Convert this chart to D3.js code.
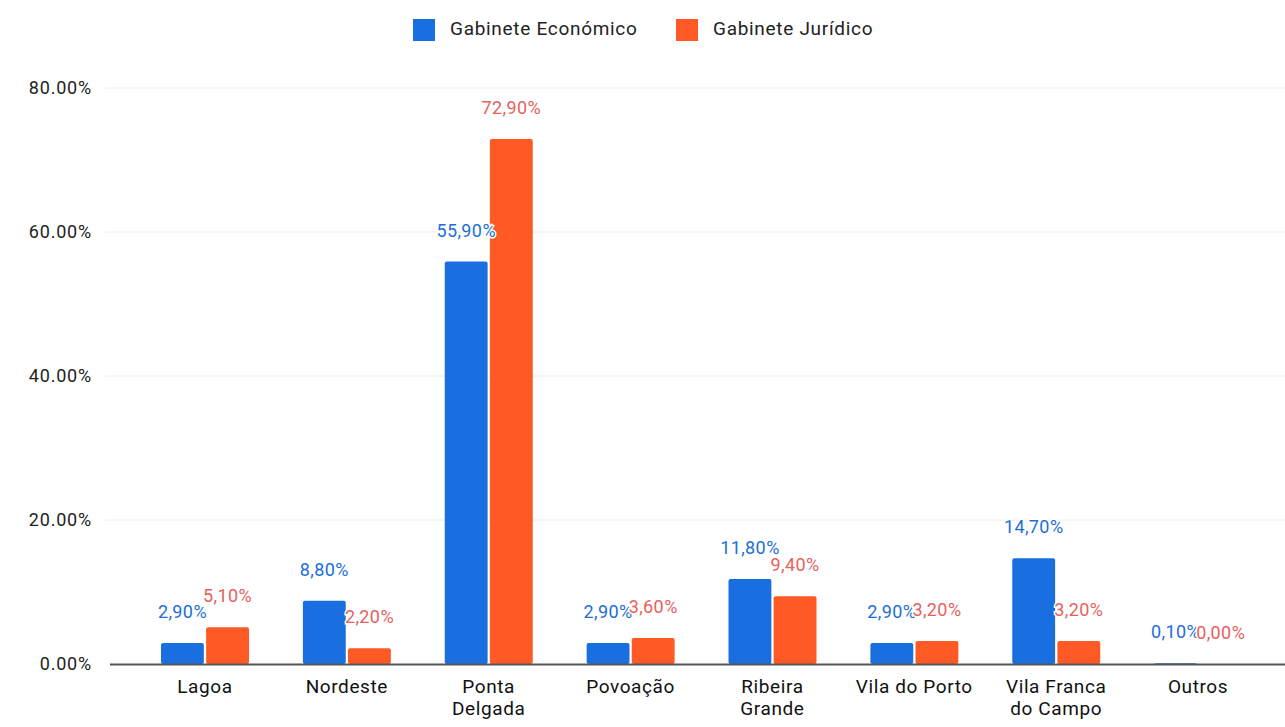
<!DOCTYPE html>
<html>
<head>
<meta charset="utf-8">
<script src="https://cdn.jsdelivr.net/npm/d3@7"></script>
<style>
    body { margin: 0; background: #fff; }
    svg { display: block; font-family: Roboto, Arial, sans-serif; }
</style>
</head>
<body>
<div id="chart"></div>
<script>
const categories = ['Lagoa', 'Nordeste', 'Ponta\nDelgada', 'Povoação', 'Ribeira\nGrande', 'Vila do Porto', 'Vila Franca\ndo Campo', 'Outros'];
const seriesNames = ['Gabinete Económico', 'Gabinete Jurídico'];
const economico = [2.9, 8.8, 55.9, 2.9, 11.8, 2.9, 14.7, 0.1];
const juridico = [5.1, 2.2, 72.9, 3.6, 9.4, 3.2, 3.2, 0.0];
const yTicks = [0, 20, 40, 60, 80];

const colors = ['#1a6fe0', '#ff5a26'];
const labelColors = ['#1d6fd6', '#e8605c'];

const width = 1285;
const height = 727;
const margin = { top: 88, right: 15, bottom: 63, left: 134 };

const svg = d3.select('#chart')
    .append('svg')
    .attr('width', width)
    .attr('height', height);

const x0 = d3.scaleBand()
    .domain(categories)
    .range([margin.left, width - margin.right - 1]);

const x1 = d3.scaleBand()
    .domain(seriesNames)
    .range([27, 115])
    .paddingInner(0.05);

const y = d3.scaleLinear()
    .domain([0, 80])
    .range([height - margin.bottom, margin.top]);

// gridlines
svg.append('g')
    .selectAll('line')
    .data(yTicks.slice(1))
    .enter()
    .append('line')
    .attr('x1', 105)
    .attr('x2', width)
    .attr('y1', d => y(d))
    .attr('y2', d => y(d))
    .attr('stroke', '#ececec')
    .attr('stroke-width', 1);

// y axis labels
const yAxis = d3.axisLeft(y)
    .tickValues(yTicks)
    .tickSize(0)
    .tickPadding(0)
    .tickFormat(d => d.toFixed(2) + '%');

svg.append('g')
    .attr('transform', 'translate(92,0)')
    .call(yAxis)
    .call(g => g.select('.domain').remove())
    .selectAll('text')
    .attr('font-size', 18)
    .attr('letter-spacing', 0.8)
    .attr('fill', '#222')
    .attr('font-family', 'Roboto, Arial, sans-serif');

const data = categories.map((c, i) => ({
    category: c,
    values: [
        { key: seriesNames[0], value: economico[i], s: 0 },
        { key: seriesNames[1], value: juridico[i], s: 1 }
    ]
}));

const groups = svg.append('g')
    .selectAll('g')
    .data(data)
    .enter()
    .append('g')
    .attr('transform', d => `translate(${x0(d.category)},0)`);

groups.selectAll('rect')
    .data(d => d.values)
    .enter()
    .append('rect')
    .attr('x', d => x1(d.key))
    .attr('y', d => y(d.value))
    .attr('width', x1.bandwidth())
    .attr('height', d => y(0) - y(d.value))
    .attr('rx', 2)
    .attr('fill', d => colors[d.s]);

// baseline
svg.append('line')
    .attr('x1', 110)
    .attr('x2', width)
    .attr('y1', y(0) + 0.5)
    .attr('y2', y(0) + 0.5)
    .attr('stroke', '#555')
    .attr('stroke-width', 2);

// value labels (orange drawn last, with white halo)
groups.selectAll('text.value')
    .data(d => d.values)
    .enter()
    .append('text')
    .attr('class', 'value')
    .attr('x', d => x1(d.key) + x1.bandwidth() / 2)
    .attr('y', d => y(d.value) - 25)
    .attr('text-anchor', 'middle')
    .attr('font-size', 18)
    .attr('letter-spacing', 0.4)
    .attr('fill', d => labelColors[d.s])
    .attr('stroke', '#fff')
    .attr('stroke-width', 3)
    .attr('paint-order', 'stroke')
    .text(d => d.value.toFixed(2).replace('.', ',') + '%');

// category labels
const catLabels = svg.append('g')
    .selectAll('text')
    .data(categories)
    .enter()
    .append('text')
    .attr('x', d => x0(d) + x0.bandwidth() / 2)
    .attr('y', y(0) + 29)
    .attr('text-anchor', 'middle')
    .attr('font-size', 19)
    .attr('letter-spacing', 0.6)
    .attr('fill', '#111');

catLabels.selectAll('tspan')
    .data(d => d.split('\n'))
    .enter()
    .append('tspan')
    .attr('x', function() { return this.parentNode.getAttribute('x'); })
    .attr('dy', (d, i) => i === 0 ? 0 : 22)
    .text(d => d);

// legend
const legendX = [413, 676];
const legend = svg.append('g')
    .selectAll('g')
    .data(seriesNames)
    .enter()
    .append('g')
    .attr('transform', (d, i) => `translate(${legendX[i]},19)`);

legend.append('rect')
    .attr('width', 22)
    .attr('height', 22)
    .attr('fill', (d, i) => colors[i]);

legend.append('text')
    .attr('x', 37)
    .attr('y', 16)
    .attr('font-size', 19)
    .attr('letter-spacing', 0.7)
    .attr('fill', '#222')
    .text(d => d);
</script>
</body>
</html>
